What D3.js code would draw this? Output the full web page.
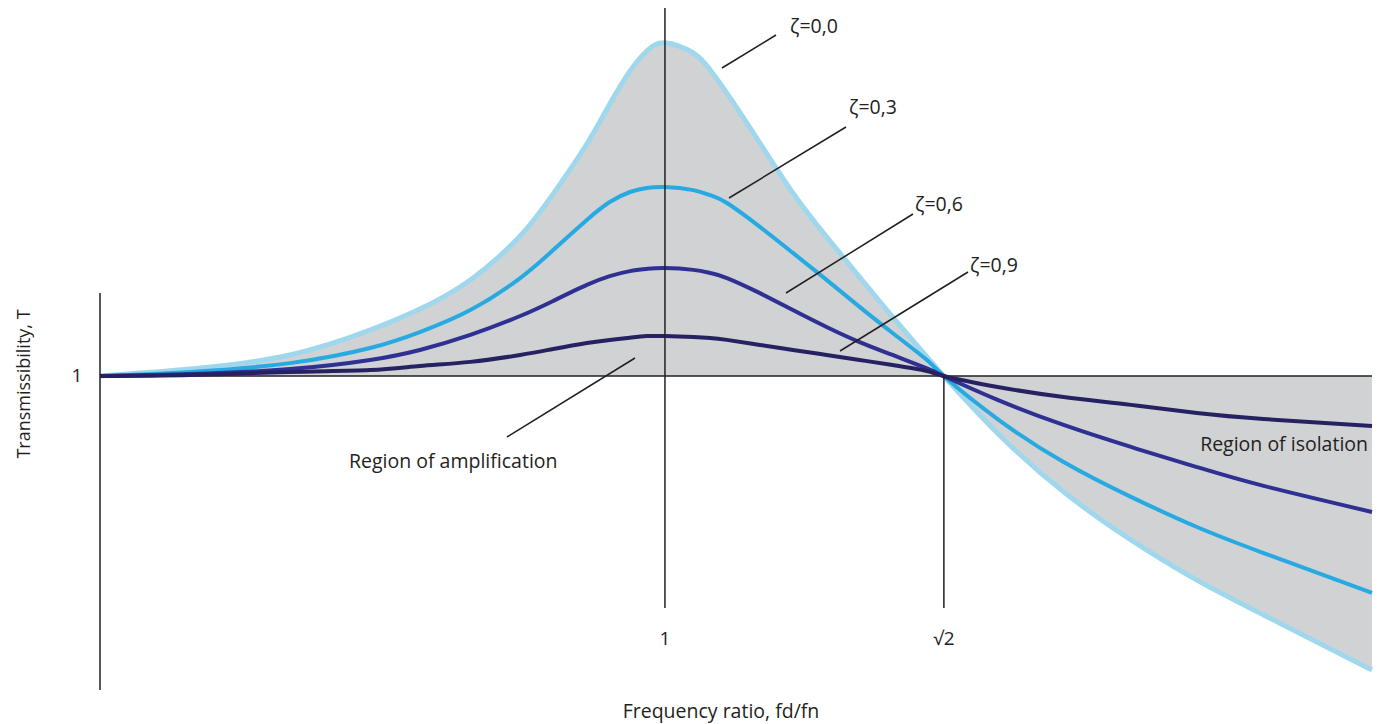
<!DOCTYPE html>
<html>
<head>
<meta charset="utf-8">
<script src="https://cdn.jsdelivr.net/npm/d3@7"></script>
<style>
  body { margin: 0; background: #fff; }
  svg text { font-family: "Open Sans", "Noto Sans", sans-serif; fill: #231f20; }
</style>
</head>
<body>
<svg width="1379" height="724"></svg>
<script>
// frequency ratio fd/fn
var ratios = [0.161, 0.295, 0.443, 0.562, 0.636, 0.711, 0.785, 0.834, 0.884, 0.918, 0.948, 0.973, 1.0,
              1.042, 1.067, 1.092, 1.141, 1.190, 1.240, 1.289, 1.338, 1.389, 1.414,
              1.494, 1.592, 1.692, 1.790, 1.889, 2.050];

// transmissibility T for each damping ratio
var zeta00 = [1.000, 1.022, 1.067, 1.146, 1.213, 1.306, 1.446, 1.580, 1.739, 1.866, 1.971, 2.035, 2.061,
              2.029, 1.975, 1.901, 1.742, 1.583, 1.443, 1.315, 1.188, 1.061, 1.000,
              0.818, 0.631, 0.478, 0.350, 0.239, 0.064];
var zeta03 = [1.000, 1.013, 1.041, 1.089, 1.140, 1.210, 1.312, 1.401, 1.497, 1.554, 1.586, 1.599, 1.602,
              1.592, 1.576, 1.551, 1.475, 1.392, 1.306, 1.220, 1.137, 1.051, 1.000,
              0.863, 0.726, 0.615, 0.519, 0.436, 0.309];
var zeta06 = [1.000, 1.006, 1.022, 1.051, 1.083, 1.131, 1.191, 1.239, 1.290, 1.318, 1.334, 1.341, 1.344,
              1.338, 1.328, 1.312, 1.264, 1.210, 1.156, 1.108, 1.067, 1.024, 1.000,
              0.924, 0.844, 0.774, 0.710, 0.650, 0.567];
var zeta09 = [1.000, 1.003, 1.013, 1.019, 1.032, 1.045, 1.067, 1.086, 1.105, 1.115, 1.122, 1.127, 1.127,
              1.124, 1.121, 1.115, 1.099, 1.083, 1.067, 1.051, 1.035, 1.016, 1.000,
              0.965, 0.933, 0.908, 0.882, 0.863, 0.841];

var zetaLabels = ["ζ=0,0", "ζ=0,3", "ζ=0,6", "ζ=0,9"];
var xTicks = [1, Math.SQRT2];
var xTickLabels = ["1", "√2"];
var yTicks = [1];

var svg = d3.select('svg');

var x = d3.scaleLinear().domain([0.161, 2.05]).range([100, 1372]);
var y = d3.scaleLinear().domain([0, 1]).range([690, 376]);

var series = [
  {vals: zeta00, color: "#9fd8ec", width: 5},
  {vals: zeta03, color: "#27aae1", width: 4},
  {vals: zeta06, color: "#2e3192", width: 4},
  {vals: zeta09, color: "#262262", width: 4}
];

var curve = d3.curveNatural;

// grey band between the undamped curve and T=1
var area = d3.area()
    .x(function(d, i){ return x(ratios[i]); })
    .y0(y(1))
    .y1(function(d){ return y(d); })
    .curve(curve);

svg.append('path')
    .attr('d', area(zeta00))
    .attr('fill', '#d1d2d4');

// baseline T=1
svg.append('line')
    .attr('x1', x(0.161)).attr('x2', x(2.05))
    .attr('y1', y(1)).attr('y2', y(1))
    .attr('stroke', '#231f20').attr('stroke-width', 1.5);

var line = d3.line()
    .x(function(d, i){ return x(ratios[i]); })
    .y(function(d){ return y(d); })
    .curve(curve);

series.forEach(function(s){
  svg.append('path')
      .attr('d', line(s.vals))
      .attr('fill', 'none')
      .attr('stroke', s.color)
      .attr('stroke-width', s.width);
});

// vertical lines at 1 and sqrt2
svg.append('line')
    .attr('x1', x(1)).attr('x2', x(1))
    .attr('y1', 8).attr('y2', 608)
    .attr('stroke', '#231f20').attr('stroke-width', 1.5);
svg.append('line')
    .attr('x1', x(Math.SQRT2)).attr('x2', x(Math.SQRT2))
    .attr('y1', y(1)).attr('y2', 608)
    .attr('stroke', '#231f20').attr('stroke-width', 1.5);

// left axis
svg.append('line')
    .attr('x1', 100).attr('x2', 100)
    .attr('y1', 293).attr('y2', 690)
    .attr('stroke', '#231f20').attr('stroke-width', 1.5);

svg.selectAll('.xtick').data(xTicks).enter().append('text')
    .attr('class', 'xtick')
    .attr('x', function(d){ return x(d); })
    .attr('y', 645)
    .attr('text-anchor', 'middle')
    .style('font-size', '19px')
    .text(function(d, i){ return xTickLabels[i]; });

svg.selectAll('.ytick').data(yTicks).enter().append('text')
    .attr('class', 'ytick')
    .attr('x', 77)
    .attr('y', function(d){ return y(d) + 6; })
    .attr('text-anchor', 'middle')
    .style('font-size', '19px')
    .text(function(d){ return d; });

svg.append('text')
    .text('Frequency ratio, fd/fn')
    .attr('text-anchor', 'middle')
    .style('font-size', '19.5px')
    .attr('transform', 'translate(721,718)');

svg.append('text')
    .text('Transmissibility, T')
    .attr('text-anchor', 'middle')
    .style('font-size', '18px')
    .attr('transform', 'translate(30,384) rotate(-90)');

// damping labels with leader lines
var leaders = [
  {x1: 722, y1: 68, x2: 776, y2: 35, tx: 790, ty: 33},
  {x1: 729, y1: 198, x2: 846, y2: 127, tx: 849, ty: 114},
  {x1: 786, y1: 293, x2: 913, y2: 214, tx: 915, ty: 211},
  {x1: 840, y1: 351, x2: 968, y2: 272, tx: 970, ty: 272}
];

leaders.forEach(function(l, i){
  svg.append('line')
      .attr('x1', l.x1).attr('y1', l.y1)
      .attr('x2', l.x2).attr('y2', l.y2)
      .attr('stroke', '#231f20').attr('stroke-width', 1.5);
  svg.append('text')
      .text(zetaLabels[i])
      .attr('x', l.tx).attr('y', l.ty)
      .style('font-size', '19.5px');
});

svg.append('line')
    .attr('x1', 507).attr('y1', 437)
    .attr('x2', 635).attr('y2', 358)
    .attr('stroke', '#231f20').attr('stroke-width', 1.5);

svg.append('text')
    .text('Region of amplification')
    .attr('x', 349).attr('y', 468)
    .style('font-size', '19.5px');

svg.append('text')
    .text('Region of isolation')
    .attr('x', 1368).attr('y', 451)
    .attr('text-anchor', 'end')
    .style('font-size', '19.5px');
</script>
</body>
</html>
